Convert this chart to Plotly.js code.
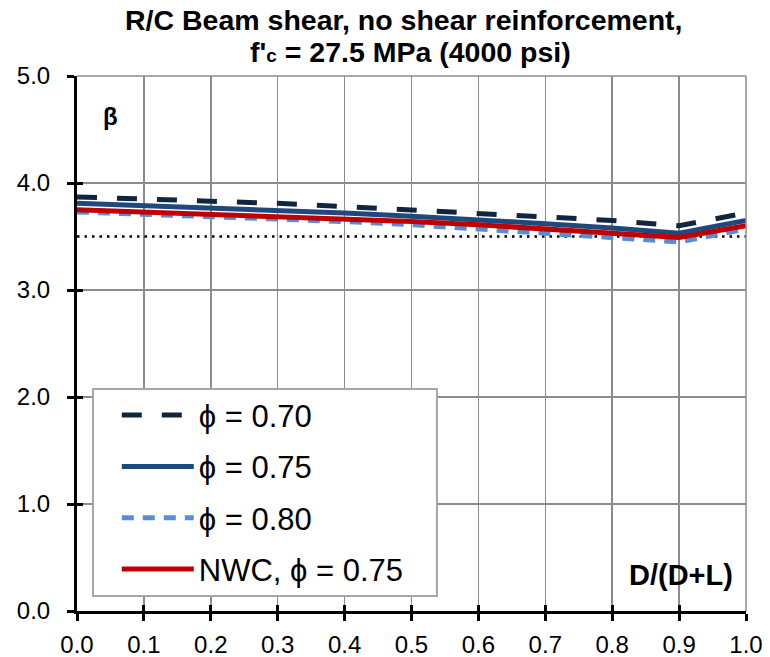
<!DOCTYPE html>
<html>
<head>
<meta charset="utf-8">
<script src="https://cdn.plot.ly/plotly-3.0.1.min.js"></script>
<style>html,body{margin:0;padding:0;background:#fff;}#chart{width:770px;height:657px;}</style>
</head>
<body>
<div id="chart"></div>
<script>
// D/(D+L) ratio
const ratio = [0.0, 0.1, 0.2, 0.3, 0.4, 0.5, 0.6, 0.7, 0.8, 0.9, 1.0];
// reliability index beta
const beta070 = [3.87, 3.85, 3.84, 3.81, 3.78, 3.75, 3.72, 3.69, 3.65, 3.60, 3.72];
const beta075 = [3.81, 3.79, 3.77, 3.74, 3.72, 3.69, 3.66, 3.62, 3.58, 3.53, 3.65];
const beta080 = [3.73, 3.71, 3.69, 3.67, 3.64, 3.61, 3.57, 3.53, 3.49, 3.45, 3.57];
const betaNWC = [3.75, 3.73, 3.71, 3.69, 3.67, 3.64, 3.61, 3.57, 3.53, 3.49, 3.60];
// target beta
const targetX = [0.0, 1.0];
const targetBeta = [3.5, 3.5];
const seriesNames = ['\u03d5 = 0.70', '\u03d5 = 0.75', '\u03d5 = 0.80', 'NWC, \u03d5 = 0.75'];
const xTicks = [0, 0.1, 0.2, 0.3, 0.4, 0.5, 0.6, 0.7, 0.8, 0.9, 1.0];
const xTickText = ['0.0','0.1','0.2','0.3','0.4','0.5','0.6','0.7','0.8','0.9','1.0'];
const yTicks = [0, 1, 2, 3, 4, 5];
const yTickText = ['0.0','1.0','2.0','3.0','4.0','5.0'];
const titleLine1 = 'R/C Beam shear, no shear reinforcement,';
const titleLine2 = 'f\'<span style="font-size:19px">c</span> = 27.5 MPa (4000 psi)';

const FONT = '"Liberation Sans", Arial, sans-serif';

const traces = [
  {x: targetX, y: targetBeta, mode: 'lines', showlegend: false, hoverinfo: 'skip',
   line: {color: '#000000', width: 2.5, dash: '2.5px,5px'}},
  {x: ratio, y: beta070, mode: 'lines', name: seriesNames[0], legendgroup: 'a',
   line: {color: '#10253F', width: 5, dash: '20px,20px'}},
  {x: ratio, y: beta075, mode: 'lines', name: seriesNames[1], legendgroup: 'b',
   line: {color: '#1F497D', width: 5}},
  {x: ratio, y: beta080, mode: 'lines', name: seriesNames[2], legendgroup: 'c',
   line: {color: '#558ED5', width: 5, dash: '12px,9px'}},
  {x: ratio, y: betaNWC, mode: 'lines', name: seriesNames[3], legendgroup: 'd',
   line: {color: '#C00000', width: 5}},
  // invisible trace anchoring the secondary axes used for inside tick marks
  {x: [0], y: [0], xaxis: 'x2', yaxis: 'y2', mode: 'markers', showlegend: false,
   hoverinfo: 'skip', marker: {opacity: 0}}
];

const layout = {
  width: 770, height: 657,
  margin: {l: 77, r: 24, t: 76, b: 46},
  paper_bgcolor: '#ffffff', plot_bgcolor: '#ffffff',
  font: {family: FONT, color: '#000000'},
  xaxis: {
    range: [0, 1], tickvals: xTicks, ticktext: xTickText,
    showgrid: true, gridcolor: '#8c8c8c', gridwidth: 1.5,
    showline: true, linecolor: '#000000', linewidth: 3,
    ticks: 'outside', ticklen: 7, tickwidth: 3, tickcolor: '#000000',
    ticklabelstandoff: 3,
    tickfont: {family: FONT, size: 24, color: '#000000'},
    zeroline: false, fixedrange: true
  },
  yaxis: {
    range: [0, 5], tickvals: yTicks, ticktext: yTickText,
    showgrid: true, gridcolor: '#8c8c8c', gridwidth: 1.5,
    showline: true, linecolor: '#000000', linewidth: 3,
    ticks: 'outside', ticklen: 7, tickwidth: 3, tickcolor: '#000000',
    ticklabelstandoff: 12,
    tickfont: {family: FONT, size: 24, color: '#000000'},
    zeroline: false, fixedrange: true
  },
  xaxis2: {
    overlaying: 'x', anchor: 'y', side: 'bottom', range: [0, 1], tickvals: xTicks,
    showticklabels: false, showgrid: false, zeroline: false, showline: false,
    ticks: 'inside', ticklen: 6, tickwidth: 3, tickcolor: '#000000', fixedrange: true
  },
  yaxis2: {
    overlaying: 'y', anchor: 'x', side: 'left', range: [0, 5], tickvals: yTicks,
    showticklabels: false, showgrid: false, zeroline: false, showline: false,
    ticks: 'inside', ticklen: 6, tickwidth: 3, tickcolor: '#000000', fixedrange: true
  },
  legend: {
    x: 0.0595, y: 0.416, xanchor: 'left', yanchor: 'top',
    bgcolor: 'rgba(0,0,0,0)', borderwidth: 0,
    font: {family: FONT, size: 31, color: '#000000'},
    traceorder: 'grouped', tracegroupgap: 8, itemwidth: 72
  },
  shapes: [
    {type: 'line', xref: 'paper', yref: 'paper', x0: 0, x1: 1, y0: 1, y1: 1,
     line: {color: '#8c8c8c', width: 1.5}},
    {type: 'line', xref: 'paper', yref: 'paper', x0: 1, x1: 1, y0: 0, y1: 1,
     line: {color: '#8c8c8c', width: 1.5}},
    // legend frame
    {type: 'rect', xref: 'paper', yref: 'paper', layer: 'above',
     x0: 0.0239, x1: 0.538, y0: 0.028, y1: 0.415,
     fillcolor: '#ffffff', line: {color: '#a6a6a6', width: 2}}
  ],
  annotations: [
    {text: '<b>' + titleLine1 + '</b>',
     xref: 'paper', yref: 'paper', x: 0.4895, y: 1.1047, xanchor: 'center', yanchor: 'middle',
     showarrow: false, font: {family: FONT, size: 28.5, color: '#000000'}},
    {text: '<b>' + titleLine2 + '</b>',
     xref: 'paper', yref: 'paper', x: 0.498, y: 1.0449, xanchor: 'center', yanchor: 'middle',
     showarrow: false, font: {family: FONT, size: 28.5, color: '#000000'}},
    {text: '<b>\u03b2</b>', xref: 'paper', yref: 'paper', x: 0.05, y: 0.925,
     xanchor: 'center', yanchor: 'middle', showarrow: false,
     font: {family: FONT, size: 24, color: '#000000'}},
    {text: '<b>D/(D+L)</b>', xref: 'paper', yref: 'paper', x: 0.984, y: 0.067,
     xanchor: 'right', yanchor: 'middle', showarrow: false,
     font: {family: FONT, size: 29, color: '#000000'}}
  ]
};

Plotly.newPlot('chart', traces, layout, {displayModeBar: false, staticPlot: true});
</script>
</body>
</html>
